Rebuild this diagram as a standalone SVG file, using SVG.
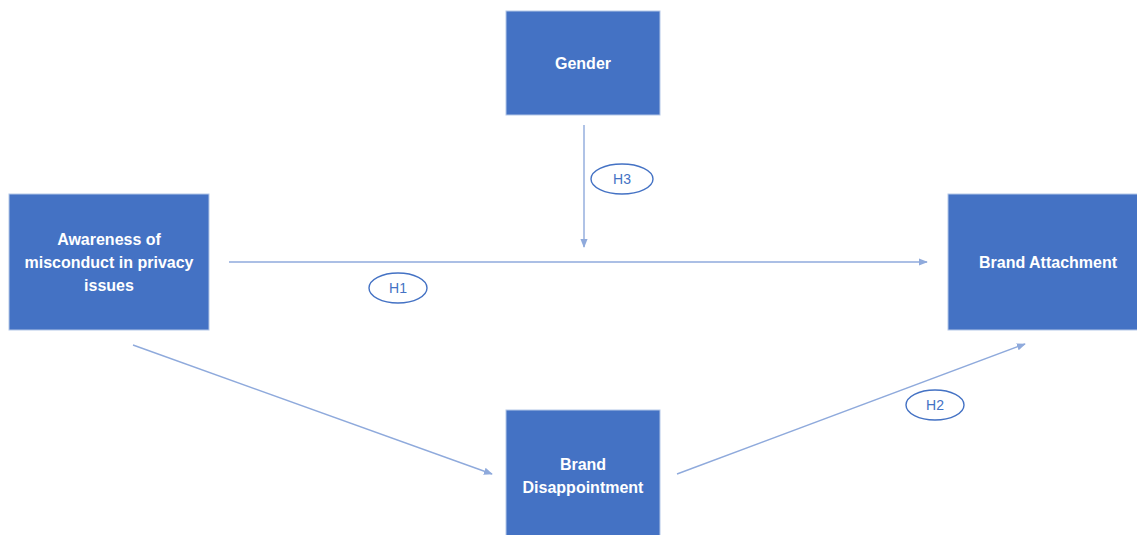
<svg xmlns="http://www.w3.org/2000/svg" width="1137" height="535" viewBox="0 0 1137 535">
<defs>
<style>
.node rect{fill:#4472C4;stroke:#B4C7E7;stroke-width:1}
.node text{fill:#FFFFFF;font-family:"Liberation Sans",Arial,sans-serif;font-weight:bold;font-size:16px;text-anchor:middle}
.conn line{stroke:#8FAADC;stroke-width:1.4;fill:none;marker-end:url(#arr)}
.lab ellipse{fill:#FFFFFF;stroke:#4472C4;stroke-width:1.4}
.lab text{fill:#4472C4;font-family:"Liberation Sans",Arial,sans-serif;font-size:14px;text-anchor:middle}
</style>
<marker id="arr" viewBox="0 0 10 10" refX="9" refY="5" markerWidth="9" markerHeight="9" orient="auto" markerUnits="userSpaceOnUse">
<path d="M0,1 L10,5 L0,9 Z" fill="#8FAADC"/>
</marker>
</defs>
<rect width="1137" height="535" fill="#FFFFFF"/>
<g id="connectors" class="conn">
<line x1="229" y1="262" x2="927" y2="262"/>
<line x1="584" y1="125" x2="584" y2="247"/>
<line x1="133" y1="345" x2="492" y2="474"/>
<line x1="677" y1="474" x2="1025" y2="344"/>
</g>
<g id="node-awareness" class="node">
<rect x="9" y="194" width="200" height="136"/>
<text x="109" y="245">Awareness of</text>
<text x="109" y="268">misconduct in privacy</text>
<text x="109" y="291">issues</text>
</g>
<g id="node-gender" class="node">
<rect x="506" y="11" width="154" height="104"/>
<text x="583" y="69">Gender</text>
</g>
<g id="node-attachment" class="node">
<rect x="948" y="194" width="195" height="136"/>
<text x="1048" y="268">Brand Attachment</text>
</g>
<g id="node-disappointment" class="node">
<rect x="506" y="410" width="154" height="130"/>
<text x="583" y="470">Brand</text>
<text x="583" y="493">Disappointment</text>
</g>
<g id="labels" class="lab">
<g id="label-h1"><ellipse cx="398" cy="288" rx="29" ry="15"/><text x="398" y="293">H1</text></g>
<g id="label-h3"><ellipse cx="622" cy="179" rx="31" ry="15"/><text x="622" y="184">H3</text></g>
<g id="label-h2"><ellipse cx="935" cy="405" rx="29" ry="15"/><text x="935" y="410">H2</text></g>
</g>
</svg>
